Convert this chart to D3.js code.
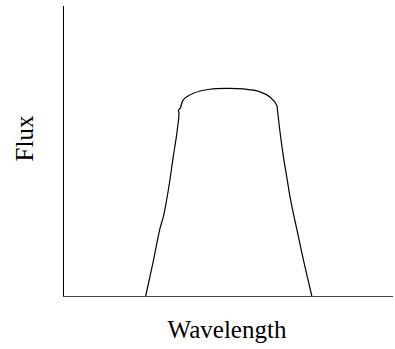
<!DOCTYPE html>
<html>
<head>
<meta charset="utf-8">
<script src="https://cdn.jsdelivr.net/npm/d3@7"></script>
<style>
  body { margin: 0; background: white; }
  svg { display: block; }
</style>
</head>
<body>
<svg id="chart"></svg>
<script>
// wavelength (arbitrary units) and flux
var wavelength = [25.06, 27.3, 29.4, 30.4, 31.4, 32.4, 33.4, 34.5, 35.15, 35.0, 35.5, 36.45, 39.5, 44.5, 49.6, 54.6, 59.7, 62.7, 64.8, 65.0, 65.8, 66.8, 67.8, 68.8, 69.8, 70.8, 73.0, 75.4];
var flux = [0, 11.7, 23.3, 27.3, 33.1, 40.0, 48.0, 56.1, 63.0, 64.1, 64.7, 67.6, 69.9, 71.3, 71.6, 71.4, 70.4, 68.6, 65.7, 64.0, 56.2, 48.0, 41.1, 34.2, 28.5, 23.3, 11.7, 0];
var xLabel = "Wavelength";
var yLabel = "Flux";

var W = 395, H = 349;
var margin = {top: 6, right: 2, bottom: 53, left: 63};
var serif = "'Liberation Serif', 'Times New Roman', Times, serif";

var svg = d3.select("#chart").attr("width", W).attr("height", H);

var x = d3.scaleLinear().domain([0, 100]).range([margin.left, W - margin.right]);
var y = d3.scaleLinear().domain([0, 100]).range([H - margin.bottom, margin.top]);

// axes as plain lines, no ticks
svg.append("line")
    .attr("x1", x(0) + 0.5).attr("x2", x(0) + 0.5)
    .attr("y1", y(100)).attr("y2", y(0))
    .attr("stroke", "black").attr("stroke-width", 1);
svg.append("line")
    .attr("x1", x(0)).attr("x2", x(100))
    .attr("y1", y(0) + 0.5).attr("y2", y(0) + 0.5)
    .attr("stroke", "#444").attr("stroke-width", 1);

var line = d3.line()
    .x(function(d, i) { return x(wavelength[i]); })
    .y(function(d, i) { return y(flux[i]); })
    .curve(d3.curveCatmullRom.alpha(0.5));

svg.append("path")
    .datum(flux)
    .attr("d", line)
    .attr("fill", "none")
    .attr("stroke", "black")
    .attr("stroke-width", 1.2);

svg.append("text")
    .text(xLabel)
    .attr("x", 227)
    .attr("y", 338)
    .attr("text-anchor", "middle")
    .attr("font-family", serif)
    .attr("font-size", 25)
    .attr("fill", "black");

svg.append("text")
    .text(yLabel)
    .attr("transform", "translate(33,138.5) rotate(-90)")
    .attr("text-anchor", "middle")
    .attr("font-family", serif)
    .attr("font-size", 25)
    .attr("fill", "black");
</script>
</body>
</html>
